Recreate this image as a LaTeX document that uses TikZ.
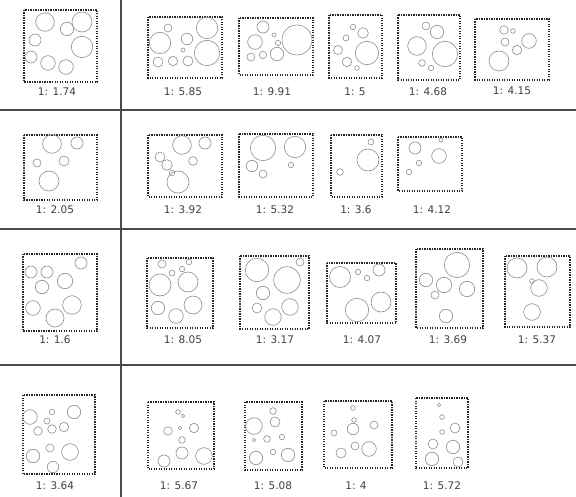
\documentclass[tikz,border=0pt]{standalone}
\usepackage{fontspec}
\setmainfont{DejaVu Sans}
\begin{document}
\begin{tikzpicture}[
  x=1pt, y=-1pt,
  frame/.style={draw=black!85, line width=1.3pt, dash pattern=on 1.3pt off 1.2pt},
  bubble/.style={draw=black!45, line width=0.6pt},
  ratio/.style={font=\fontsize{10.5}{12}\selectfont, text=black!75, inner sep=0pt},
  rule/.style={draw=black!70, line width=1.3pt}
]
\useasboundingbox (0,0) rectangle (576,497);
% grid
\draw[rule] (121,0) -- (121,497);
\foreach \y in {110,229,365}
  \draw[rule] (0,\y) -- (576,\y);

% row 1
\draw[frame] (24,10) rectangle (97,82);
\foreach \x/\y/\r in {45/22/9.3, 67/29/6.7, 82/22/10, 35/40/6, 82/47/10.7, 31/57/6, 48/63/7.3, 66/67/7.3}
  \draw[bubble] (\x,\y) circle[radius=\r pt];
\node[ratio] (a1) at (57,92) {1: 1.74};

\draw[frame] (148,17) rectangle (222,78);
\foreach \x/\y/\r in {168/28/4, 160/43/10.7, 187/39/5.7, 183/50/2, 207/28/10.7, 207/53/12.7, 158/62/5, 173/61/4.7, 188/61/5}
  \draw[bubble] (\x,\y) circle[radius=\r pt];
\node[ratio] (a2) at (183,92) {1: 5.85};

\draw[frame] (239,18) rectangle (313,75);
\foreach \x/\y/\r in {263/27/6, 255/42/7.3, 274/35/2, 278/43/2.7, 297/40/15, 251/57/4, 263/55/3.7, 277/54/6.7}
  \draw[bubble] (\x,\y) circle[radius=\r pt];
\node[ratio] (a3) at (272,92) {1: 9.91};

\draw[frame] (329,15) rectangle (382,78);
\foreach \x/\y/\r in {353/27/2.7, 363/33/5.3, 346/38/3, 338/50/4.5, 367/53/11.7, 347/62/4.7, 357/68/2.3}
  \draw[bubble] (\x,\y) circle[radius=\r pt];
\node[ratio] (a4) at (355,92) {1: 5};

\draw[frame] (398,15) rectangle (460,80);
\foreach \x/\y/\r in {426/26/4, 437/32/6.7, 417/46/9.3, 445/54/12.7, 422/63/3.3, 431/68/2.7}
  \draw[bubble] (\x,\y) circle[radius=\r pt];
\node[ratio] (a5) at (428,92) {1: 4.68};

\draw[frame] (475,19) rectangle (549,80);
\foreach \x/\y/\r in {504/30/4.3, 513/31/2.3, 505/42/4, 529/41/7.3, 517/50/4.7, 499/61/10}
  \draw[bubble] (\x,\y) circle[radius=\r pt];
\node[ratio] (a6) at (512,91) {1: 4.15};

% row 2
\draw[frame] (24,135) rectangle (97,200);
\foreach \x/\y/\r in {52/144/9.3, 77/143/6, 37/163/4, 64/161/5, 49/181/10}
  \draw[bubble] (\x,\y) circle[radius=\r pt];
\node[ratio] (b1) at (55,210) {1: 2.05};

\draw[frame] (148,135) rectangle (222,197);
\foreach \x/\y/\r in {182/145/9.3, 205/143/6, 160/157/5, 167/165/5.3, 193/161/4.3, 172/173/2.7, 178/182/11}
  \draw[bubble] (\x,\y) circle[radius=\r pt];
\node[ratio] (b2) at (183,210) {1: 3.92};

\draw[frame] (239,134) rectangle (313,197);
\foreach \x/\y/\r in {263/148/12.7, 295/147/10.7, 252/166/5.7, 263/174/4, 291/165/2.7}
  \draw[bubble] (\x,\y) circle[radius=\r pt];
\node[ratio] (b3) at (275,210) {1: 5.32};

\draw[frame] (331,135) rectangle (382,197);
\foreach \x/\y/\r in {371/142/3, 368/160/11, 340/172/3.3}
  \draw[bubble] (\x,\y) circle[radius=\r pt];
\node[ratio] (b4) at (356,210) {1: 3.6};

\draw[frame] (398,137) rectangle (462,191);
\foreach \x/\y/\r in {415/148/6, 439/156/7.3, 441/140/2, 419/163/2.7, 409/172/2.7}
  \draw[bubble] (\x,\y) circle[radius=\r pt];
\node[ratio] (b5) at (432,210) {1: 4.12};

% row 3
\draw[frame] (23,254) rectangle (97,331);
\foreach \x/\y/\r in {81/263/6, 31/272/6, 47/272/6, 65/281/7.7, 42/287/6.7, 72/305/9.3, 33/308/7.3, 55/318/9}
  \draw[bubble] (\x,\y) circle[radius=\r pt];
\node[ratio] (c1) at (55,340) {1: 1.6};

\draw[frame] (147,258) rectangle (213,328);
\foreach \x/\y/\r in {162/264/4, 189/262/2.7, 172/273/3, 182/269/2.7, 160/285/11, 188/282/10, 158/308/6.7, 193/305/9, 176/316/7.3}
  \draw[bubble] (\x,\y) circle[radius=\r pt];
\node[ratio] (c2) at (183,340) {1: 8.05};

\draw[frame] (240,256) rectangle (309,329);
\foreach \x/\y/\r in {257/270/11.7, 300/262/4, 287/280/13.3, 263/293/6.7, 257/308/5, 290/307/8.3, 273/317/8.3}
  \draw[bubble] (\x,\y) circle[radius=\r pt];
\node[ratio] (c3) at (275,340) {1: 3.17};

\draw[frame] (327,263) rectangle (396,323);
\foreach \x/\y/\r in {340/277/10.5, 358/272/2.7, 379/270/6, 367/278/2.7, 357/310/11.7, 381/302/10}
  \draw[bubble] (\x,\y) circle[radius=\r pt];
\node[ratio] (c4) at (362,340) {1: 4.07};

\draw[frame] (416,249) rectangle (483,328);
\foreach \x/\y/\r in {457/265/12.7, 426/280/6.7, 444/285/7.7, 467/289/7.7, 435/295/4, 446/316/6.7}
  \draw[bubble] (\x,\y) circle[radius=\r pt];
\node[ratio] (c5) at (448,340) {1: 3.69};

\draw[frame] (505,256) rectangle (570,327);
\foreach \x/\y/\r in {517/268/10, 547/267/10, 532/281/2.3, 539/288/8.3, 532/312/8.3}
  \draw[bubble] (\x,\y) circle[radius=\r pt];
\node[ratio] (c6) at (537,340) {1: 5.37};

% row 4
\draw[frame] (23,395) rectangle (95,474);
\foreach \x/\y/\r in {30/417/7.3, 52/412/2.7, 74/412/6.7, 47/421/3, 38/431/4.3, 52/429/4.3, 64/427/4.7, 50/448/4, 33/456/6.7, 70/452/8.3, 53/467/5.7}
  \draw[bubble] (\x,\y) circle[radius=\r pt];
\node[ratio] (d1) at (55,486) {1: 3.64};

\draw[frame] (148,402) rectangle (214,469);
\foreach \x/\y/\r in {178/412/2.3, 183/416/1.7, 168/431/4.3, 180/428/1.7, 194/428/4.7, 182/440/3.3, 182/453/6, 164/461/6, 204/456/8.3}
  \draw[bubble] (\x,\y) circle[radius=\r pt];
\node[ratio] (d2) at (179,486) {1: 5.67};

\draw[frame] (245,402) rectangle (302,470);
\foreach \x/\y/\r in {273/411/3.3, 275/422/5, 254/426/8.3, 254/440/1.7, 267/439/3.3, 282/437/2.7, 273/452/2.7, 256/458/6.7, 288/455/6.7}
  \draw[bubble] (\x,\y) circle[radius=\r pt];
\node[ratio] (d3) at (273,486) {1: 5.08};

\draw[frame] (324,401) rectangle (392,468);
\foreach \x/\y/\r in {353/408/2.3, 354/420/2.3, 374/425/4, 353/429/5.7, 334/433/3, 355/446/4, 341/453/5, 369/449/7.3}
  \draw[bubble] (\x,\y) circle[radius=\r pt];
\node[ratio] (d4) at (356,486) {1: 4};

\draw[frame] (416,398) rectangle (468,468);
\foreach \x/\y/\r in {439/405/1.7, 442/417/2.3, 442/432/2.3, 433/444/5, 432/459/6.7, 455/428/5, 453/447/6.7, 458/462/5}
  \draw[bubble] (\x,\y) circle[radius=\r pt];
\node[ratio] (d5) at (442,486) {1: 5.72};
\end{tikzpicture}
\end{document}
